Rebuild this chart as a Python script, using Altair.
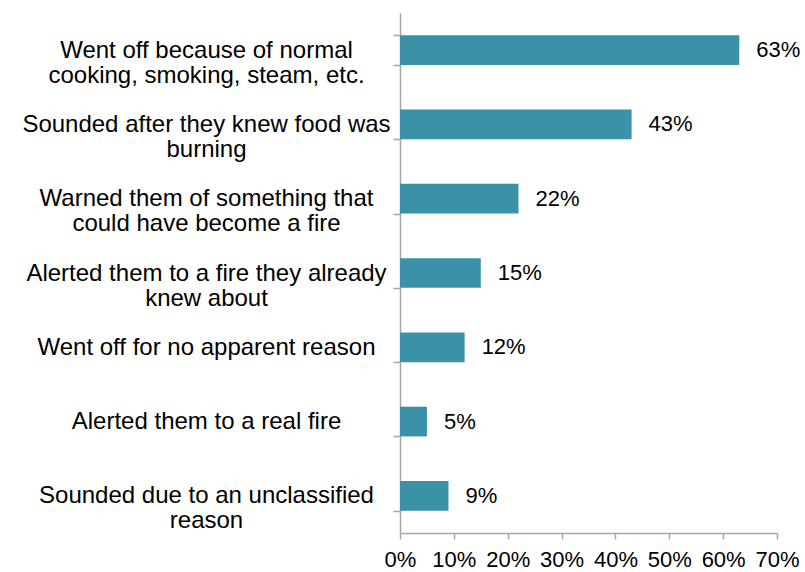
import altair as alt
import pandas as pd

categories = [
    "Went off because of normal|cooking, smoking, steam, etc.",
    "Sounded after they knew food was|burning",
    "Warned them of something that|could have become a fire",
    "Alerted them to a fire they already|knew about",
    "Went off for no apparent reason",
    "Alerted them to a real fire",
    "Sounded due to an unclassified|reason",
]
values = [0.63, 0.43, 0.22, 0.15, 0.12, 0.05, 0.09]

df = pd.DataFrame({"cat": categories, "val": values})

FONT = "Liberation Sans"
GRAY = "#A6A6A6"

y = alt.Y(
    "cat:N",
    sort=categories,
    scale=alt.Scale(paddingInner=0.6, paddingOuter=0.3),
    axis=alt.Axis(
        title=None,
        labelExpr="split(datum.label, '|')",
        labelAlign="center",
        labelBaseline="middle",
        labelPadding=187,
        labelLineHeight=25,
        labelFont=FONT,
        labelFontSize=24,
        labelColor="#000000",
        labelLimit=0,
        tickBand="extent",
        tickSize=7,
        tickColor=GRAY,
        domainColor=GRAY,
        domainWidth=1.5,
        tickWidth=1.5,
    ),
)

x = alt.X(
    "val:Q",
    scale=alt.Scale(domain=[0, 0.7], nice=False),
    axis=alt.Axis(
        title=None,
        format=".0%",
        values=[0, 0.1, 0.2, 0.3, 0.4, 0.5, 0.6, 0.7],
        grid=False,
        labelFont=FONT,
        labelFontSize=22,
        labelColor="#000000",
        labelPadding=10,
        labelFlush=False,
        tickSize=6,
        tickColor=GRAY,
        domainColor=GRAY,
        domainWidth=1.5,
        tickWidth=1.5,
    ),
)

bars = alt.Chart(df).mark_bar(color="#3A91A8").encode(x=x, y=y)
text = alt.Chart(df).mark_text(
    align="left", baseline="middle", dx=17, font=FONT, fontSize=22, color="#000000"
).encode(x="val:Q", y=alt.Y("cat:N", sort=categories), text=alt.Text("val:Q", format=".0%"))

chart = (
    (bars + text)
    .properties(
        width=377,
        height=520,
        autosize=alt.AutoSizeParams(type="none"),
        padding={"left": 400, "top": 13, "right": 28, "bottom": 39},
    )
    .configure_view(stroke=None)
)

chart.save("out.html", embed_options={"renderer": "svg", "actions": False})
